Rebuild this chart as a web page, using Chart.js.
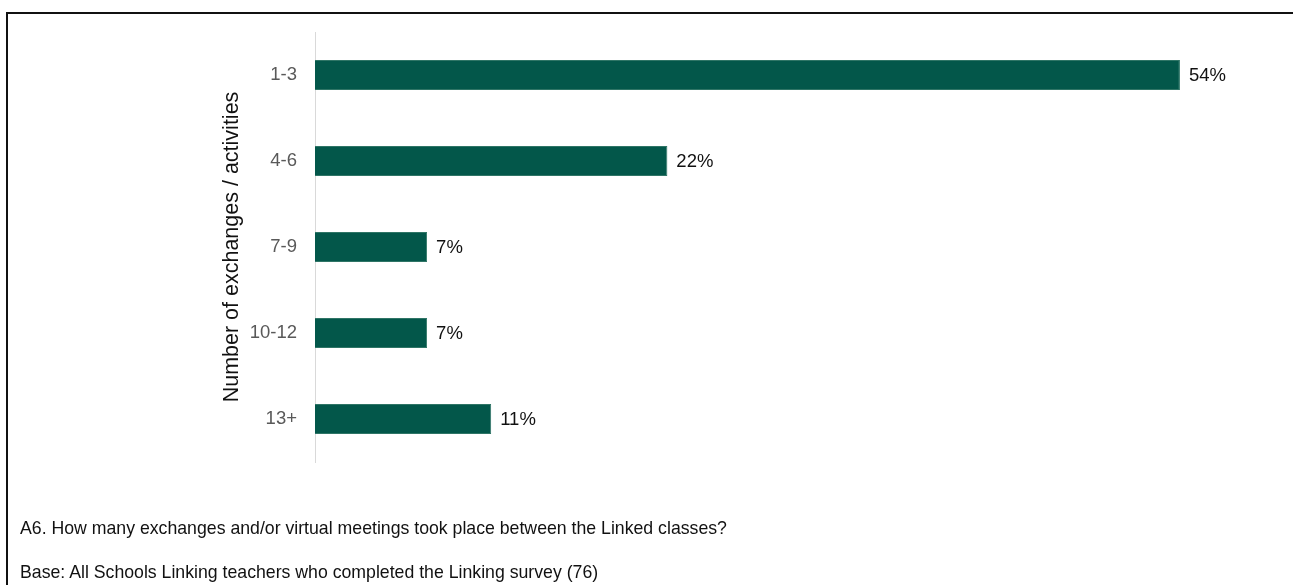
<!DOCTYPE html>
<html>
<head>
<meta charset="utf-8">
<script src="https://cdn.jsdelivr.net/npm/chart.js@4"></script>
<style>
  body { margin: 0; background: #fff; font-family: Arial, "Liberation Sans", sans-serif; }
  #wrap { position: relative; width: 1293px; height: 585px; overflow: hidden; }
  #frame { position: absolute; left: 6px; top: 12px; width: 1300px; height: 600px;
           border-top: 2px solid #111; border-left: 2px solid #111; }
  #chart { position: absolute; left: 0; top: 0; }
  .note { position: absolute; left: 20px; font-size: 17.7px; line-height: 20px; color: #111; white-space: nowrap; }
</style>
</head>
<body>
<div id="wrap">
  <div id="frame"></div>
  <canvas id="chart" width="1293" height="585"></canvas>
  <div class="note" style="top: 518px;">A6. How many exchanges and/or virtual meetings took place between the Linked classes?</div>
  <div class="note" style="top: 562px;">Base: All Schools Linking teachers who completed the Linking survey (76)</div>
</div>
<script>
const categories = ["1-3", "4-6", "7-9", "10-12", "13+"];
const shares = [54, 22, 7, 7, 11];
const axisTitle = "Number of exchanges / activities";

// writes "54%" etc. just past the end of each bar
const valueLabels = {
  id: "valueLabels",
  afterDatasetsDraw(chart) {
    const ctx = chart.ctx;
    const meta = chart.getDatasetMeta(0);
    ctx.save();
    ctx.font = "18.5px Arial, 'Liberation Sans', sans-serif";
    ctx.fillStyle = "#111";
    ctx.textBaseline = "middle";
    ctx.textAlign = "left";
    meta.data.forEach((bar, i) => {
      ctx.fillText(shares[i] + "%", bar.x + 9, bar.y + 1);
    });
    ctx.restore();
  },
};

const ctx = document.getElementById("chart").getContext("2d");
new Chart(ctx, {
  type: "bar",
  data: {
    labels: categories,
    datasets: [
      {
        data: shares,
        backgroundColor: "#03574a",
        borderColor: "#2f7566",
        borderWidth: 1,
        categoryPercentage: 1,
        barPercentage: 0.35,
      },
    ],
  },
  options: {
    indexAxis: "y",
    responsive: false,
    animation: false,
    layout: { padding: { left: 219, top: 32, bottom: 123, right: 17 } },
    plugins: {
      legend: { display: false },
      tooltip: { enabled: false },
    },
    scales: {
      x: { display: false, min: 0, max: 60 },
      y: {
        afterFit: (scale) => { scale.width = 96; },
        grid: { display: false, drawTicks: false },
        border: { display: true, color: "#d9d9d9", width: 1 },
        ticks: {
          color: "#595959",
          padding: 18,
          font: { family: "Arial, 'Liberation Sans', sans-serif", size: 18.5 },
        },
        title: {
          display: true,
          text: axisTitle,
          color: "#111",
          padding: 0,
          font: { family: "Arial, 'Liberation Sans', sans-serif", size: 21.5, lineHeight: 1.2 },
        },
      },
    },
  },
  plugins: [valueLabels],
});
</script>
</body>
</html>
